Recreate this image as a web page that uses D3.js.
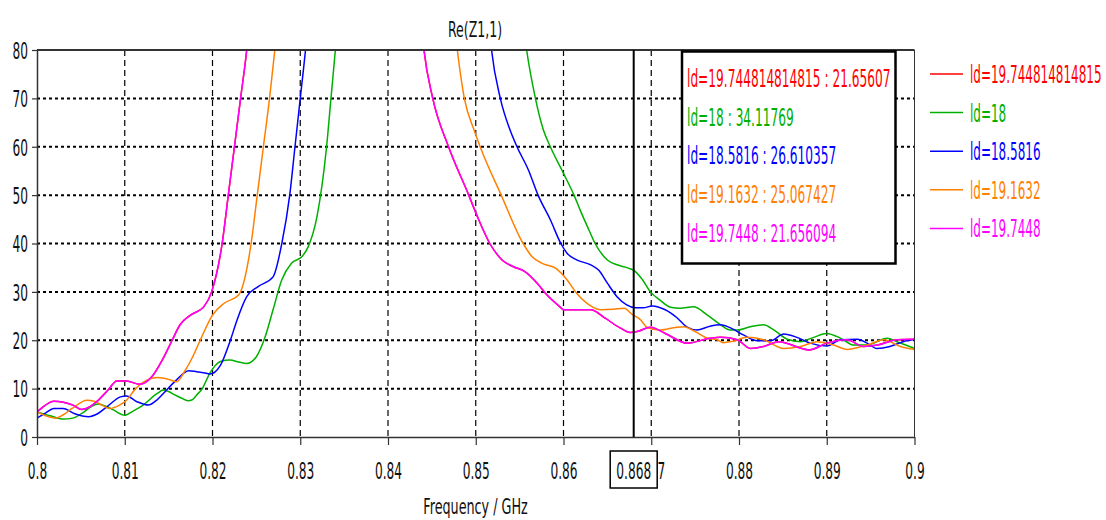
<!DOCTYPE html>
<html>
<head>
<meta charset="utf-8">
<script src="https://cdn.jsdelivr.net/npm/d3@7"></script>
<style>
  body { margin: 0; background: #fff; }
  svg { display: block; font-family: "DejaVu Sans", Verdana, sans-serif; }
</style>
</head>
<body>
<svg id="chart" width="1106" height="520"></svg>
<script>
// values: [frequency GHz, Re(Z1,1)]
// (points above 80 only keep the line going out of the top of the plot)
const ld18 = [[0.8000,5.2],[0.8015,4.4],[0.8030,3.7],[0.8041,3.9],[0.8052,5.0],[0.8062,6.3],[0.8070,6.8],[0.8079,6.3],[0.8087,5.6],[0.8100,4.5],[0.8110,5.4],[0.8121,6.6],[0.8137,9.0],[0.8144,9.7],[0.8150,9.4],[0.8157,8.7],[0.8165,8.0],[0.8172,7.5],[0.8177,7.7],[0.8182,8.7],[0.8188,9.9],[0.8197,13.2],[0.8209,15.6],[0.8220,15.9],[0.8230,15.5],[0.8239,15.2],[0.8250,16.6],[0.8260,20.7],[0.8269,26.3],[0.8279,32.5],[0.8290,35.9],[0.8302,37.3],[0.8309,39.3],[0.8319,45.5],[0.8330,60],[0.8335,70],[0.8340,80],[0.8345,92],[0.8450,200],[0.8550,92],[0.8558,80],[0.8568,70],[0.8577,63.5],[0.8585,60],[0.8600,54.5],[0.8612,50],[0.8619,46.9],[0.8629,42.8],[0.8636,40],[0.8650,36.6],[0.8661,35.6],[0.8674,34.9],[0.8682,34.2],[0.8690,32.5],[0.8699,30.0],[0.8710,28.3],[0.8722,26.8],[0.8733,26.6],[0.8748,26.9],[0.8764,25.2],[0.8779,23.2],[0.8790,22.1],[0.8798,22.1],[0.8813,22.8],[0.8828,23.2],[0.8840,22.1],[0.8855,20.2],[0.8870,19.7],[0.8885,20.6],[0.8900,21.4],[0.8916,20.4],[0.8931,19.0],[0.8946,19.0],[0.8969,20.4],[0.8980,19.7],[0.9000,18.3]];

const ld18_5816 = [[0.8000,3.9],[0.8010,5.0],[0.8019,5.9],[0.8030,5.9],[0.8043,4.8],[0.8059,4.2],[0.8069,4.8],[0.8080,6.3],[0.8095,8.3],[0.8102,8.5],[0.8114,7.3],[0.8127,6.6],[0.8135,7.4],[0.8144,9.0],[0.8159,11.8],[0.8173,13.7],[0.8182,13.5],[0.8190,13.3],[0.8197,13.0],[0.8209,14.8],[0.8220,19.8],[0.8228,24.2],[0.8239,29.0],[0.8252,31.1],[0.8269,33.1],[0.8279,40],[0.8288,50],[0.8294,60],[0.8300,70],[0.8306,80],[0.8312,92],[0.8420,200],[0.8512,92],[0.8518,80],[0.8528,70],[0.8539,63.5],[0.8547,60],[0.8560,55.2],[0.8571,50],[0.8585,44.9],[0.8597,40],[0.8604,38.0],[0.8615,36.6],[0.8631,35.6],[0.8640,34.5],[0.8650,31.8],[0.8661,29.0],[0.8672,27.3],[0.8682,26.7],[0.8691,26.7],[0.8701,27.1],[0.8716,26.3],[0.8729,24.7],[0.8741,22.7],[0.8752,22.1],[0.8767,22.9],[0.8779,23.2],[0.8792,22.4],[0.8805,21.1],[0.8821,19.9],[0.8836,19.9],[0.8851,21.3],[0.8866,20.6],[0.8881,19.4],[0.8900,18.8],[0.8916,20.1],[0.8935,20.2],[0.8946,19.4],[0.8957,18.3],[0.8972,18.7],[0.8987,19.7],[0.9000,20.2]];

const ld19_1632 = [[0.8000,5.2],[0.8010,4.4],[0.8021,3.9],[0.8030,4.6],[0.8040,5.9],[0.8057,7.6],[0.8065,7.4],[0.8074,6.6],[0.8083,5.9],[0.8093,6.5],[0.8102,7.6],[0.8112,9.9],[0.8127,11.9],[0.8137,12.3],[0.8152,11.8],[0.8159,11.4],[0.8169,13.8],[0.8178,16.8],[0.8186,20.0],[0.8200,25.2],[0.8213,27.6],[0.8230,29.4],[0.8241,36.6],[0.8244,40],[0.8251,50],[0.8258,60],[0.8265,70],[0.8271,80],[0.8278,92],[0.8380,200],[0.8472,92],[0.8479,80],[0.8487,70],[0.8498,63.5],[0.8505,60],[0.8529,50],[0.8554,40],[0.8564,37.3],[0.8577,35.8],[0.8591,34.9],[0.8604,32.5],[0.8615,29.7],[0.8631,27.1],[0.8642,26.3],[0.8657,26.4],[0.8669,26.6],[0.8678,25.4],[0.8688,24.2],[0.8695,22.7],[0.8710,22.1],[0.8729,22.7],[0.8737,22.8],[0.8750,21.8],[0.8764,20.4],[0.8775,20.1],[0.8782,19.5],[0.8793,19.8],[0.8809,20.6],[0.8828,20.1],[0.8851,18.3],[0.8870,18.7],[0.8889,19.7],[0.8908,19.0],[0.8923,18.1],[0.8946,19.0],[0.8965,20.1],[0.8984,18.7],[0.9000,18.1]];

const ld19_7448 = [[0.8000,5.2],[0.8009,6.5],[0.8019,7.4],[0.8030,7.2],[0.8041,6.6],[0.8051,5.7],[0.8060,6.2],[0.8068,7.3],[0.8081,9.7],[0.8091,11.6],[0.8102,11.6],[0.8117,10.9],[0.8131,12.5],[0.8143,16.0],[0.8154,20.0],[0.8163,23.2],[0.8175,25.2],[0.8190,26.9],[0.8199,30.0],[0.8211,40],[0.8218,50],[0.8225,60],[0.8232,70],[0.8239,80],[0.8245,92],[0.8340,200],[0.8435,92],[0.8441,80],[0.8451,70],[0.8469,60],[0.8492,50],[0.8502,45.5],[0.8516,40],[0.8530,36.6],[0.8543,35.2],[0.8556,34.2],[0.8570,31.8],[0.8581,29.4],[0.8596,26.9],[0.8600,26.3],[0.8631,26.3],[0.8648,24.5],[0.8665,22.5],[0.8676,21.6],[0.8684,21.8],[0.8699,22.7],[0.8716,21.4],[0.8741,19.4],[0.8767,20.4],[0.8779,20.6],[0.8798,20.1],[0.8813,18.3],[0.8828,18.7],[0.8845,19.7],[0.8880,18.0],[0.8900,19.4],[0.8923,20.1],[0.8942,18.7],[0.8958,19.0],[0.8980,20.1],[0.9000,20.2]];

// the ld=19.744814814815 run lies on top of ld=19.7448
const ld19_744814814815 = ld19_7448;

const seriesNames = ["ld=19.744814814815", "ld=18", "ld=18.5816", "ld=19.1632", "ld=19.7448"];
const seriesData = [ld19_744814814815, ld18, ld18_5816, ld19_1632, ld19_7448];
const seriesColors = ["#ff0000", "#00b000", "#0000ff", "#ff8000", "#ff00ff"];

const markerFreq = 0.868;
const markerValues = ["21.65607", "34.11769", "26.610357", "25.067427", "21.656094"];

const xTicks = [0.8, 0.81, 0.82, 0.83, 0.84, 0.85, 0.86, 0.87, 0.88, 0.89, 0.9];
const yTicks = [0, 10, 20, 30, 40, 50, 60, 70, 80];

const svg = d3.select("#chart");
const plotL = 37, plotR = 914.5, plotT = 50, plotB = 437;

const x = d3.scaleLinear().domain([0.8, 0.9]).range([plotL, plotR]);
const y = d3.scaleLinear().domain([0, 80]).range([plotB, plotT]);

// narrow text like the original, drawn with a horizontal squeeze
function label(sel, px, py, txt, fs, sx, color, anchor) {
  sel.append("g")
    .attr("transform", "translate(" + px + "," + py + ") scale(" + sx + ",1)")
    .append("text")
    .attr("font-size", fs)
    .attr("fill", color || "#111")
    .attr("text-anchor", anchor || "start")
    .text(txt);
}

// grid
svg.append("g").selectAll("line")
  .data(yTicks.filter(d => d > 0 && d < 80))
  .enter().append("line")
  .attr("x1", plotL).attr("x2", plotR)
  .attr("y1", d => y(d)).attr("y2", d => y(d))
  .attr("stroke", "#000").attr("stroke-width", 2)
  .attr("stroke-dasharray", "3,3");

svg.append("g").selectAll("line")
  .data(xTicks.filter(d => d > 0.8 && d < 0.9))
  .enter().append("line")
  .attr("x1", d => x(d)).attr("x2", d => x(d))
  .attr("y1", plotT).attr("y2", plotB)
  .attr("stroke", "#000").attr("stroke-width", 1.2)
  .attr("stroke-dasharray", "6,4");

// curves
svg.append("clipPath").attr("id", "plot")
  .append("rect").attr("x", plotL).attr("y", plotT)
  .attr("width", plotR - plotL).attr("height", plotB - plotT);

const line = d3.line()
  .x(d => x(d[0]))
  .y(d => y(d[1]))
  .curve(d3.curveMonotoneX);

svg.append("g").attr("clip-path", "url(#plot)")
  .selectAll("path")
  .data(seriesData)
  .enter().append("path")
  .attr("d", d => line(d))
  .attr("fill", "none")
  .attr("stroke", (d, i) => seriesColors[i])
  .attr("stroke-width", 1.5);

// frame and axes
svg.append("line").attr("x1", plotL).attr("x2", plotR).attr("y1", plotT).attr("y2", plotT)
  .attr("stroke", "#333").attr("stroke-width", 2);
svg.append("line").attr("x1", plotR).attr("x2", plotR).attr("y1", plotT).attr("y2", plotB)
  .attr("stroke", "#333").attr("stroke-width", 1);

const sxTick = 0.53;
const xAxis = svg.append("g")
  .attr("transform", "translate(0," + plotB + ")")
  .call(d3.axisBottom(x).tickValues(xTicks).tickSize(8).tickSizeOuter(0)
    .tickFormat(d => String(+d.toFixed(3))));
xAxis.select(".domain").attr("stroke", "#333").attr("stroke-width", 1.5);
xAxis.selectAll(".tick line").attr("stroke", "#333").attr("stroke-width", 1.2);
xAxis.selectAll(".tick text")
  .attr("font-family", "DejaVu Sans").attr("font-size", 23).attr("fill", "#111")
  .attr("y", 42).attr("dy", null)
  .attr("transform", "scale(" + sxTick + ",1)");

const yAxis = svg.append("g")
  .attr("transform", "translate(" + plotL + ",0)")
  .call(d3.axisLeft(y).tickValues(yTicks).tickSize(5).tickSizeOuter(0));
yAxis.select(".domain").attr("stroke", "#333").attr("stroke-width", 1.5);
yAxis.selectAll(".tick line").attr("stroke", "#333").attr("stroke-width", 1.2);
yAxis.selectAll(".tick text")
  .attr("font-family", "DejaVu Sans").attr("font-size", 23).attr("fill", "#111")
  .attr("x", -9 / sxTick).attr("dy", "0.36em")
  .attr("transform", "scale(" + sxTick + ",1)");

// marker at 0.868
svg.append("line")
  .attr("x1", x(markerFreq)).attr("x2", x(markerFreq))
  .attr("y1", plotT).attr("y2", plotB)
  .attr("stroke", "#000").attr("stroke-width", 2);
svg.append("rect")
  .attr("x", x(markerFreq) - 23.5).attr("y", 451).attr("width", 47).attr("height", 37)
  .attr("fill", "#fff").attr("stroke", "#000").attr("stroke-width", 1.5);
label(svg, x(markerFreq), 479, String(markerFreq), 23, sxTick, "#111", "middle");

// marker readout box
svg.append("rect")
  .attr("x", 682).attr("y", 51.5).attr("width", 213.5).attr("height", 212)
  .attr("fill", "#fff").attr("stroke", "#000").attr("stroke-width", 2.5);
seriesNames.forEach((name, i) => {
  label(svg, 687, 87 + i * 38.7, name + " : " + markerValues[i], 25, 0.487, seriesColors[i]);
});

// legend
seriesNames.forEach((name, i) => {
  const ly = 74 + i * 38.6;
  svg.append("line").attr("x1", 930).attr("x2", 963).attr("y1", ly).attr("y2", ly)
    .attr("stroke", seriesColors[i]).attr("stroke-width", 1.5);
  label(svg, 970, ly + 9, name, 25, 0.48, seriesColors[i]);
});

// titles
label(svg, 475, 37, "Re(Z1,1)", 22, 0.57, "#111", "middle");
label(svg, 475.5, 514, "Frequency / GHz", 22, 0.58, "#111", "middle");
</script>
</body>
</html>
